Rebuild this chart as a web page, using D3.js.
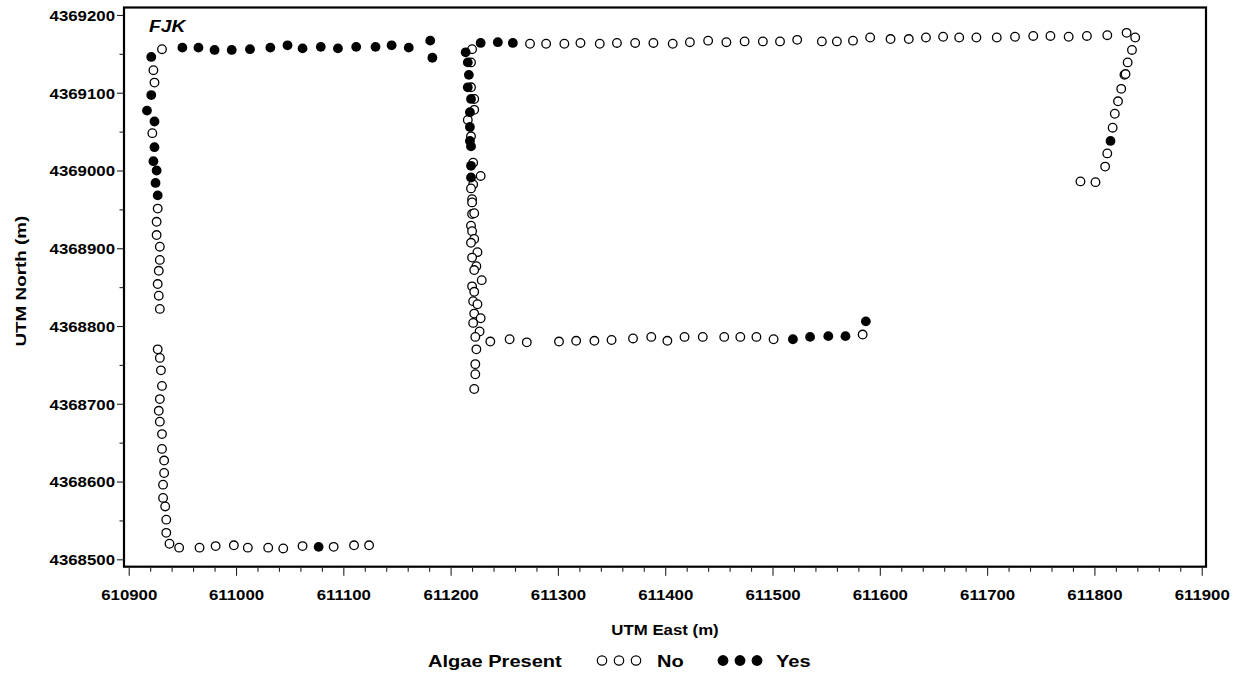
<!DOCTYPE html>
<html>
<head>
<meta charset="utf-8">
<script src="https://cdn.jsdelivr.net/npm/d3@7"></script>
<style>
  html, body { margin: 0; padding: 0; background: #fff; }
  svg { display: block; }
  text { font-family: "Liberation Sans", Arial, sans-serif; font-weight: bold; fill: #000; }
</style>
</head>
<body>
<svg id="chart" width="1241" height="674"></svg>
<script>
// Survey stations: [UTM easting (m), UTM northing (m), algae present (1) / absent (0)]
const westTransect = [
  [610931,4369156,0],[610921,4369146,1],[610923,4369129,0],[610924,4369113,0],
  [610921,4369097,1],[610917,4369077,1],[610924,4369063,1],[610922,4369048,0],
  [610924,4369030,1],[610923,4369012,1],[610926,4369000,1],[610925,4368984,1],
  [610927,4368968,1],[610927,4368951,0],[610926,4368934,0],[610926,4368917,0],
  [610929,4368902,0],[610929,4368885,0],[610928,4368871,0],[610927,4368854,0],
  [610928,4368839,0],[610929,4368822,0],[610927,4368770,0],[610929,4368759,0],
  [610930,4368743,0],[610931,4368723,0],[610929,4368706,0],[610928,4368691,0],
  [610929,4368677,0],[610931,4368661,0],[610931,4368642,0],[610933,4368627,0],
  [610933,4368611,0],[610932,4368596,0],[610932,4368579,0],[610934,4368568,0],
  [610935,4368551,0],[610935,4368534,0],[610938,4368520,0]
];
const southTransect = [
  [610947,4368515,0],[610966,4368515,0],[610981,4368517,0],[610998,4368518,0],
  [611011,4368515,0],[611030,4368515,0],[611044,4368514,0],[611062,4368517,0],
  [611077,4368516,1],[611091,4368516,0],[611110,4368518,0],[611124,4368518,0]
];
const northWestTransect = [
  [610950,4369158,1],[610965,4369158,1],[610980,4369155,1],[610996,4369155,1],
  [611013,4369156,1],[611032,4369158,1],[611048,4369161,1],[611062,4369157,1],
  [611079,4369159,1],[611095,4369157,1],[611112,4369159,1],[611130,4369159,1],
  [611145,4369161,1],[611161,4369158,1],[611181,4369167,1],[611183,4369145,1]
];
const centralTransect = [
  [611214,4369152,1],[611220,4369156,0],[611228,4369164,1],[611244,4369165,1],
  [611258,4369164,1],[611216,4369139,1],[611219,4369139,0],[611217,4369123,1],
  [611216,4369107,1],[611219,4369107,0],[611219,4369092,1],[611222,4369092,0],
  [611222,4369078,0],[611218,4369075,1],[611216,4369065,0],[611218,4369056,1],
  [611219,4369044,0],[611218,4369038,1],[611219,4369031,1],[611221,4369010,0],
  [611219,4369006,1],[611228,4368993,0],[611219,4368991,1],[611221,4368982,0],
  [611219,4368977,0],[611220,4368963,0],[611220,4368959,0],[611220,4368944,0],
  [611222,4368945,0],[611219,4368929,0],[611220,4368922,0],[611222,4368912,0],
  [611219,4368907,0],[611225,4368895,0],[611220,4368888,0],[611224,4368877,0],
  [611222,4368872,0],[611229,4368859,0],[611220,4368851,0],[611222,4368844,0],
  [611221,4368832,0],[611225,4368828,0],[611222,4368816,0],[611228,4368810,0],
  [611221,4368804,0],[611227,4368793,0],[611223,4368786,0],[611224,4368770,0],
  [611223,4368751,0],[611223,4368738,0],[611222,4368719,0]
];
const midTransect = [
  [611237,4368780,0],[611255,4368783,0],[611271,4368779,0],[611301,4368780,0],
  [611317,4368781,0],[611334,4368781,0],[611350,4368782,0],[611370,4368784,0],
  [611387,4368786,0],[611402,4368781,0],[611418,4368786,0],[611435,4368786,0],
  [611455,4368786,0],[611470,4368786,0],[611485,4368786,0],[611501,4368783,0],
  [611519,4368783,1],[611535,4368786,1],[611552,4368787,1],[611568,4368787,1],
  [611584,4368789,0],[611587,4368806,1]
];
const northEastTransect = [
  [611274,4369163,0],[611289,4369163,0],[611306,4369163,0],[611321,4369164,0],
  [611339,4369163,0],[611355,4369164,0],[611372,4369164,0],[611389,4369164,0],
  [611407,4369163,0],[611423,4369165,0],[611440,4369167,0],[611457,4369165,0],
  [611474,4369166,0],[611491,4369166,0],[611507,4369166,0],[611523,4369168,0],
  [611546,4369166,0],[611560,4369166,0],[611575,4369167,0],[611591,4369171,0],
  [611610,4369169,0],[611627,4369169,0],[611643,4369171,0],[611659,4369172,0],
  [611674,4369171,0],[611690,4369171,0],[611709,4369171,0],[611726,4369172,0],
  [611743,4369173,0],[611759,4369173,0],[611776,4369172,0],[611793,4369173,0],
  [611812,4369174,0],[611830,4369177,0],[611838,4369171,0]
];
const eastTransect = [
  [611835,4369155,0],[611831,4369139,0],[611828,4369123,0],[611829,4369124,0],
  [611825,4369105,0],[611822,4369089,0],[611819,4369073,0],[611817,4369055,0],
  [611815,4369038,1],[611812,4369022,0],[611810,4369005,0],[611801,4368985,0],
  [611787,4368986,0]
];

const xTicks = [610900,611000,611100,611200,611300,611400,611500,611600,611700,611800,611900];
const yTicks = [4368500,4368600,4368700,4368800,4368900,4369000,4369100,4369200];
const siteLabel = "FJK";
const legendTitle = "Algae Present";
const legendKeys = ["No", "Yes"];

const stations = [].concat(westTransect, southTransect, northWestTransect,
  centralTransect, midTransect, northEastTransect, eastTransect);

const svg = d3.select("#chart");
const plot = { left: 124, right: 1206, top: 7.5, bottom: 566.7 };

const x = d3.scaleLinear().domain([610895.6, 611904]).range([plot.left, plot.right]);
const y = d3.scaleLinear().domain([4368490.5, 4369209.6]).range([plot.bottom, plot.top]);

// widen glyphs along the baseline
function widen(sel, k) {
  sel.each(function () {
    const len = this.getComputedTextLength();
    d3.select(this).attr("textLength", len * k).attr("lengthAdjust", "spacingAndGlyphs");
  });
}

// minor ticks
const xMinor = d3.range(610900, 611901, 20).filter(v => v % 100 !== 0);
const yMinor = d3.range(4368500, 4369201, 50).filter(v => v % 100 !== 0);

const gxMinor = svg.append("g").attr("transform", `translate(0,${plot.bottom + 1})`)
  .call(d3.axisBottom(x).tickValues(xMinor).tickSize(4).tickFormat(""));
const gx = svg.append("g").attr("transform", `translate(0,${plot.bottom + 1})`)
  .call(d3.axisBottom(x).tickValues(xTicks).tickSize(8).tickFormat(d3.format("d")));
const gyMinor = svg.append("g").attr("transform", `translate(${plot.left - 1},0)`)
  .call(d3.axisLeft(y).tickValues(yMinor).tickSize(3.5).tickFormat(""));
const gy = svg.append("g").attr("transform", `translate(${plot.left - 1},0)`)
  .call(d3.axisLeft(y).tickValues(yTicks).tickSize(6).tickFormat(d3.format("d")));

[gxMinor, gx, gyMinor, gy].forEach(g => {
  g.select(".domain").remove();
  g.selectAll(".tick line").attr("stroke", "#222").attr("stroke-width", 1.1);
});

gx.selectAll(".tick text")
  .attr("y", 32).attr("dy", 0)
  .style("font-size", "15px").style("font-family", "'Liberation Sans', Arial, sans-serif")
  .style("font-weight", "bold").attr("fill", "#000");
gy.selectAll(".tick text")
  .attr("x", -8).attr("dy", "0.36em")
  .style("font-size", "15px").style("font-family", "'Liberation Sans', Arial, sans-serif")
  .style("font-weight", "bold").attr("fill", "#000");
widen(gx.selectAll(".tick text"), 1.12);
widen(gy.selectAll(".tick text"), 1.12);

// plot frame
svg.append("rect")
  .attr("x", plot.left).attr("y", plot.top)
  .attr("width", plot.right - plot.left).attr("height", plot.bottom - plot.top)
  .attr("fill", "none").attr("stroke", "#000").attr("stroke-width", 2.2);

// axis titles
const xTitle = svg.append("text")
  .attr("x", (plot.left + plot.right) / 2).attr("y", 635)
  .attr("text-anchor", "middle").style("font-size", "14px").text("UTM East (m)");
widen(xTitle, 1.2);

const yTitle = svg.append("text")
  .attr("transform", `translate(26,${(plot.top + plot.bottom) / 2 - 6}) rotate(-90)`)
  .attr("text-anchor", "middle").style("font-size", "14.5px").text("UTM North (m)");
widen(yTitle, 1.3);

// site label
const site = svg.append("text")
  .attr("x", 149).attr("y", 32)
  .style("font-size", "16px").style("font-style", "italic").text(siteLabel);
widen(site, 1.2);

// stations: absent first, present drawn on top
const marks = svg.append("g");
marks.selectAll("circle.no")
  .data(stations.filter(d => d[2] === 0))
  .join("circle").attr("class", "no")
  .attr("cx", d => x(d[0])).attr("cy", d => y(d[1]))
  .attr("r", 4.3).attr("fill", "#fff").attr("stroke", "#000").attr("stroke-width", 1.3);
marks.selectAll("circle.yes")
  .data(stations.filter(d => d[2] === 1))
  .join("circle").attr("class", "yes")
  .attr("cx", d => x(d[0])).attr("cy", d => y(d[1]))
  .attr("r", 4.9).attr("fill", "#000");

// legend
const legend = svg.append("g");
const legY = 667;
const lt = legend.append("text").attr("x", 428).attr("y", legY)
  .style("font-size", "17px").text(legendTitle);
widen(lt, 1.18);

legend.selectAll("circle.lno").data([0, 1, 2]).join("circle").attr("class", "lno")
  .attr("cx", i => 602 + i * 17).attr("cy", legY - 6.5).attr("r", 4.7)
  .attr("fill", "#fff").attr("stroke", "#000").attr("stroke-width", 1.2);
const ln = legend.append("text").attr("x", 657).attr("y", legY)
  .style("font-size", "17px").text(legendKeys[0]);
widen(ln, 1.18);

legend.selectAll("circle.lyes").data([0, 1, 2]).join("circle").attr("class", "lyes")
  .attr("cx", i => 723 + i * 17).attr("cy", legY - 6.5).attr("r", 5.4)
  .attr("fill", "#000");
const ly = legend.append("text").attr("x", 776).attr("y", legY)
  .style("font-size", "17px").text(legendKeys[1]);
widen(ly, 1.18);
</script>
</body>
</html>
